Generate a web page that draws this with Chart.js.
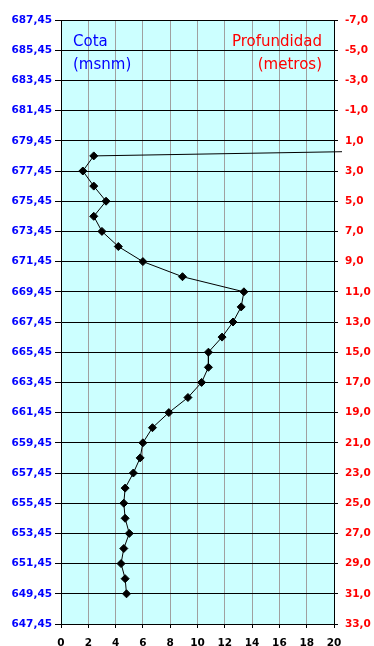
<!DOCTYPE html>
<html>
<head>
<meta charset="utf-8">
<script src="https://cdn.jsdelivr.net/npm/chart.js@4/dist/chart.umd.min.js"></script>
<style>
  html, body { margin: 0; padding: 0; background: #fff; }
  canvas { display: block; }
</style>
</head>
<body>
<canvas id="perfil" width="374" height="646"></canvas>
<script>
// Profundidad (metros) y valor medido en cada nivel
const depths = [1.0, 2.0, 3.0, 4.0, 5.0, 6.0, 7.0, 8.0, 9.0, 10.0, 11.0, 12.0, 13.0, 14.0, 15.0, 16.0,
    17.0, 18.0, 19.0, 20.0, 21.0, 22.0, 23.0, 24.0, 25.0, 26.0, 27.0, 28.0, 29.0, 30.0, 31.0];
const values = [68, 2.4, 1.6, 2.4, 3.3, 2.4, 3.0, 4.2, 6.0, 8.9, 13.4, 13.2, 12.6, 11.8, 10.8, 10.8,
    10.3, 9.3, 7.9, 6.7, 6.0, 5.8, 5.3, 4.7, 4.6, 4.7, 5.0, 4.6, 4.4, 4.7, 4.8];

// Ejes
const cotaMin = 647.45, cotaMax = 687.45;
const profMin = -7, profMax = 33;
const xMin = 0, xMax = 20, stepSize = 2;

const points = depths.map((d, i) => ({ x: values[i], y: d }));

Chart.defaults.font.family = '"DejaVu Sans", Verdana, sans-serif';
Chart.defaults.font.size = 10.5;
Chart.defaults.font.weight = 'bold';

// fondo celeste del area de trazado
const background = {
    id: 'background',
    beforeDraw(chart) {
        const { ctx, chartArea: a } = chart;
        ctx.save();
        ctx.fillStyle = '#fff';
        ctx.fillRect(0, 0, chart.width, chart.height);
        ctx.fillStyle = '#ccffff';
        ctx.fillRect(a.left, a.top, a.right - a.left, a.bottom - a.top);
        ctx.restore();
    }
};

// rotulos dentro del grafico
const labels = {
    id: 'labels',
    afterDraw(chart) {
        const ctx = chart.ctx;
        ctx.save();
        ctx.font = '15px "DejaVu Sans", Verdana, sans-serif';
        ctx.textBaseline = 'alphabetic';
        ctx.fillStyle = '#0000ff';
        ctx.textAlign = 'left';
        ctx.fillText('Cota', 73, 46);
        ctx.fillText('(msnm)', 73, 69);
        ctx.fillStyle = '#ff0000';
        ctx.textAlign = 'right';
        ctx.fillText('Profundidad', 322, 46);
        ctx.fillText('(metros)', 322, 69);
        ctx.restore();
    }
};

const chart = new Chart(document.getElementById('perfil'), {
    type: 'line',
    data: {
        datasets: [{
            data: points,
            yAxisID: 'y2',
            borderColor: '#000',
            borderWidth: 1,
            tension: 0,
            pointStyle: 'rectRot',
            pointRadius: 4,
            pointBorderWidth: 1,
            pointBackgroundColor: '#000',
            pointBorderColor: '#000',
            clip: { left: 5, top: 5, right: 8, bottom: 5 }
        }]
    },
    options: {
        responsive: false,
        devicePixelRatio: 1,
        animation: false,
        layout: { padding: { top: 20, left: 0, right: 0, bottom: 0 } },
        plugins: {
            legend: { display: false },
            tooltip: { enabled: false }
        },
        scales: {
            x: {
                type: 'linear',
                min: xMin,
                max: xMax,
                ticks: { stepSize: stepSize, color: '#000', padding: 9, autoSkip: false, maxRotation: 0 },
                grid: { color: '#a0a0a0', tickColor: '#000', tickLength: 4 },
                border: { color: '#000' },
                afterFit: s => { s.height = 22; }
            },
            y: {
                type: 'linear',
                position: 'left',
                display: true,
                min: cotaMin,
                max: cotaMax,
                ticks: {
                    stepSize: stepSize,
                    color: '#0000ff',
                    padding: 3,
                    autoSkip: false,
                    callback: v => v.toFixed(2).replace('.', ',')
                },
                grid: { color: '#000', tickLength: 6 },
                border: { color: '#000' },
                afterFit: s => { s.width = 61; }
            },
            y2: {
                type: 'linear',
                position: 'right',
                reverse: true,
                min: profMin,
                max: profMax,
                ticks: {
                    stepSize: stepSize,
                    color: '#ff0000',
                    padding: 7,
                    autoSkip: false,
                    callback: v => v.toFixed(1).replace('.', ',')
                },
                grid: { drawOnChartArea: false, color: '#000', tickLength: 4 },
                border: { color: '#000' },
                afterFit: s => { s.width = 40; }
            }
        }
    },
    plugins: [background, labels]
});
</script>
</body>
</html>
